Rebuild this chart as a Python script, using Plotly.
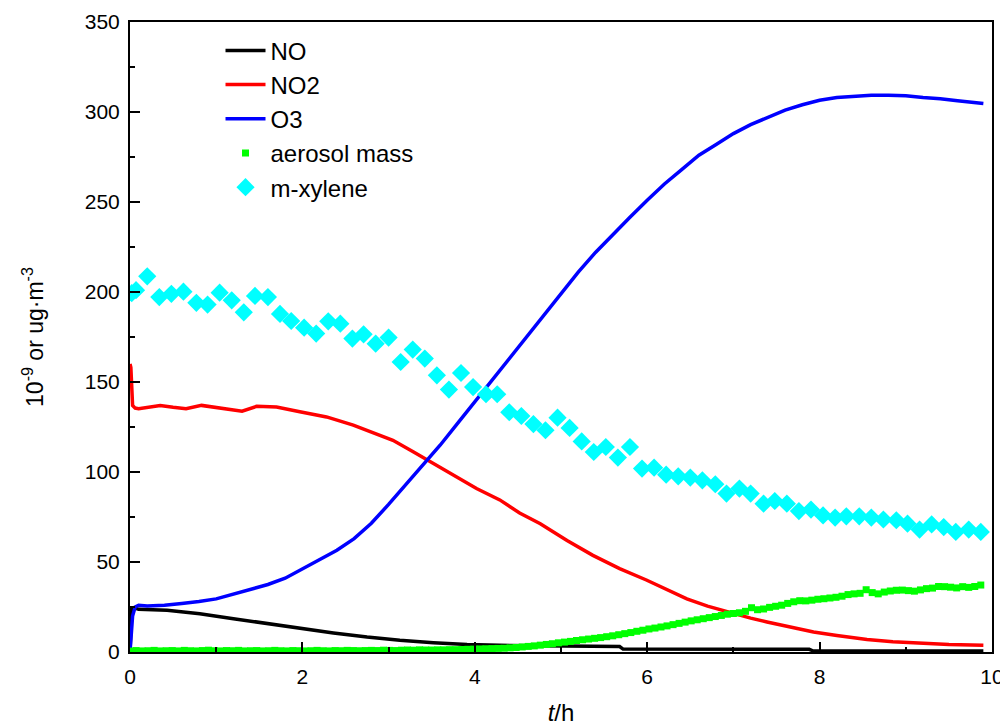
import plotly.graph_objects as go

# ---- data ----
no_t = [0, 0.02, 0.05, 0.1, 0.43, 0.81, 1.2, 1.59, 1.97, 2.36, 2.75, 3.13, 3.52, 3.91,
        4.29, 5.0, 5.68, 5.72, 7.88, 7.92, 9.9]
no_v = [0, 24, 24.5, 23.7, 23.2, 21.3, 18.5, 15.8, 13, 10.6, 8.3, 6.5, 5.2, 4.1,
        3.7, 3.2, 3.0, 1.6, 1.5, 0.7, 0.6]

no2_t = [0, 0.01, 0.03, 0.06, 0.1, 0.2, 0.35, 0.5, 0.65, 0.83, 1.0, 1.15, 1.3, 1.47, 1.7,
         1.97, 2.28, 2.59, 2.9, 3.05, 3.29, 3.52, 3.75, 4.02, 4.29, 4.52, 4.76, 5.07, 5.37,
         5.68, 5.99, 6.2, 6.46, 6.7, 7.0, 7.2, 7.39, 7.65, 7.93, 8.2, 8.55, 8.85, 9.13, 9.5, 9.9]
no2_v = [160, 158, 137, 135.5, 135.2, 136, 137, 136, 135.2, 137, 135.8, 135.2, 133.8, 136.5, 136.1,
         133.5, 130.6, 126, 120.4, 117.6, 111.1, 104.7, 98.2, 90.8, 84.5, 77.2, 71.3, 62, 53.7,
         46.3, 40, 35.5, 29.5, 25.5, 21.3, 18.8, 16.7, 13.8, 11.1, 9.2, 6.9, 5.7, 4.9, 4.2, 3.8]

o3_t = [0, 0.03, 0.06, 0.1, 0.2, 0.4, 0.6, 0.8, 1.0, 1.2, 1.4, 1.6, 1.8, 2.0, 2.2, 2.4, 2.6,
        2.8, 3.0, 3.2, 3.4, 3.6, 3.8, 4.0, 4.2, 4.4, 4.6, 4.8, 5.0, 5.2, 5.4, 5.6, 5.8, 6.0,
        6.2, 6.4, 6.6, 6.8, 7.0, 7.2, 7.4, 7.6, 7.8, 8.0, 8.2, 8.4, 8.6, 8.8, 9.0, 9.2, 9.4,
        9.6, 9.8, 9.9]
o3_v = [0, 20, 25, 26, 25.5, 26, 27, 28, 29.5, 32, 34.5, 37.5, 41, 46, 51, 56.5, 63,
        71.5, 82, 93, 103.5, 115, 127, 139, 151, 163, 175, 187, 199, 211, 222, 232, 241.5, 251,
        260, 268, 276, 282, 288, 293, 297, 301, 304, 306.5, 308, 308.8, 309.3, 309.3, 309, 308, 307.4,
        306.2, 305.3, 304.7]

aerosol_mass = [
    0.5, 0.8, 0.6, 0.7, 0.9, 0.6, 0.7, 0.8, 0.6, 0.9,
    0.7, 0.6, 0.8, 1.0, 0.7, 0.6, 0.8, 0.7, 0.9, 0.6,
    0.7, 0.8, 0.6, 0.7, 0.9, 0.7, 0.6, 0.8, 0.7, 0.6,
    0.7, 0.9, 0.7, 0.6, 0.8, 0.7, 0.9, 0.8, 0.7, 0.8,
    0.9, 0.8, 1.0, 0.9, 0.8, 1.0, 1.1, 1.0, 1.2, 1.1,
    1.1, 1.2, 1.2, 1.3, 1.3, 1.4, 1.5, 1.6, 1.7, 1.8,
    1.9, 2.0, 2.1, 2.3, 2.5, 2.8, 3.1, 3.4, 3.8, 4.2,
    4.6, 5.1, 5.5, 5.9, 6.4, 6.8, 7.2, 7.6, 8.0, 8.5,
    9.0, 9.6, 10.2, 10.8, 11.5, 12.1, 12.8, 13.3, 13.9, 14.5,
    15.2, 15.9, 16.6, 17.3, 17.9, 18.5, 19.1, 19.7, 20.3, 21.0,
    21.4, 21.8, 22.6, 24.6, 23.5, 23.9, 24.8, 25.4, 26.0, 27.0,
    27.9, 28.5, 28.4, 28.8, 29.3, 29.6, 30.0, 30.4, 31.0, 31.9,
    32.3, 32.6, 34.6, 33.0, 32.3, 33.3, 33.9, 34.3, 34.4, 34.1,
    33.8, 34.5, 35.2, 35.5, 36.4, 36.3, 36.0, 35.6, 36.3, 35.9,
    36.4, 37.2]
aerosol_t = [round(i * 0.07, 2) for i in range(len(aerosol_mass))]

xylene_t = [0.02, 0.07, 0.2, 0.34, 0.48, 0.62, 0.77, 0.9, 1.04, 1.18, 1.32, 1.45, 1.6, 1.74,
            1.87, 2.02, 2.16, 2.3, 2.44, 2.58, 2.71, 2.85, 3.0, 3.14, 3.28, 3.42, 3.56, 3.7,
            3.84, 3.98, 4.13, 4.26, 4.4, 4.54, 4.68, 4.82, 4.96, 5.1, 5.24, 5.38, 5.52, 5.66,
            5.8, 5.94, 6.08, 6.22, 6.36, 6.5, 6.64, 6.79, 6.92, 7.07, 7.2, 7.35, 7.48, 7.62,
            7.76, 7.9, 8.04, 8.18, 8.31, 8.46, 8.6, 8.74, 8.89, 9.02, 9.16, 9.3, 9.44, 9.58,
            9.73, 9.87]
xylene_v = [199.4, 201, 208.7, 197.2, 199, 200.2, 194, 193, 199.6, 195.4, 188.7, 197.8, 197.2, 187.8,
            183.9, 180.2, 176.9, 183.7, 182.4, 174.1, 176.5, 171.3, 174.7, 161.1, 168, 163, 153.7, 145.8,
            155, 147.2, 143.2, 143.2, 133.2, 131.1, 126.6, 123.2, 130.2, 124.5, 117, 111.1, 113.9, 108,
            113.9, 101.9, 102.4, 98.5, 97.6, 96.9, 95.4, 93.2, 88, 90.8, 88, 82.4, 83.9, 82.4,
            78.3, 79.1, 75.9, 74.7, 75.4, 75.4, 74.7, 73.6, 73.2, 71.3, 68, 70.9, 69.4, 66.7,
            68, 66.7]

FONT = "Arial, 'Liberation Sans', Helvetica, sans-serif"

fig = go.Figure()
fig.add_trace(go.Scatter(x=no_t, y=no_v, mode="lines", name="NO",
                         line=dict(color="#000000", width=3.5)))
fig.add_trace(go.Scatter(x=no2_t, y=no2_v, mode="lines", name="NO2",
                         line=dict(color="#FF0000", width=3.5)))
fig.add_trace(go.Scatter(x=o3_t, y=o3_v, mode="lines", name="O3",
                         line=dict(color="#0000FF", width=3.5)))
fig.add_trace(go.Scatter(x=aerosol_t, y=aerosol_mass, mode="markers", name="aerosol mass",
                         marker=dict(symbol="square", size=7, color="#00FF00")))
fig.add_trace(go.Scatter(x=xylene_t, y=xylene_v, mode="markers", name="m-xylene",
                         marker=dict(symbol="diamond", size=14, color="#00FFFF")))

axis_common = dict(
    showgrid=False, zeroline=False, showline=True, linecolor="black", linewidth=2,
    mirror=True, ticks="inside", ticklen=10, tickwidth=1.5, tickcolor="black",
    tickfont=dict(family=FONT, size=21, color="black"), automargin=False,
)
fig.update_xaxes(range=[0, 10], dtick=2, tick0=0,
                 minor=dict(dtick=1, ticks="inside", ticklen=5, tickcolor="black", tickwidth=1.5),
                 title=dict(text="<i>t</i>/h", font=dict(family=FONT, size=24, color="black"),
                            standoff=18),
                 ticklabelstandoff=5,
                 **axis_common)
fig.update_yaxes(range=[0, 350], dtick=50, tick0=0,
                 minor=dict(dtick=25, ticks="inside", ticklen=5, tickcolor="black", tickwidth=1.5),
                 title=dict(text="10<sup>-9</sup> or ug·m<sup>-3</sup>",
                            font=dict(family=FONT, size=23, color="black"), standoff=35),
                 ticklabelstandoff=4,
                 **axis_common)

# The page adds an 8px body margin, so the figure is sized to fit the remaining viewport.
fig.update_layout(
    width=1000, height=718,
    margin=dict(l=122, r=16, t=14, b=74),
    paper_bgcolor="white", plot_bgcolor="white",
    font=dict(family=FONT, color="black"),
    showlegend=True,
    legend=dict(x=0.105, y=0.99, xanchor="left", yanchor="top",
                bgcolor="rgba(0,0,0,0)", font=dict(family=FONT, size=24, color="black"),
                itemwidth=40, tracegroupgap=0),
)

fig.write_html("out.html")
